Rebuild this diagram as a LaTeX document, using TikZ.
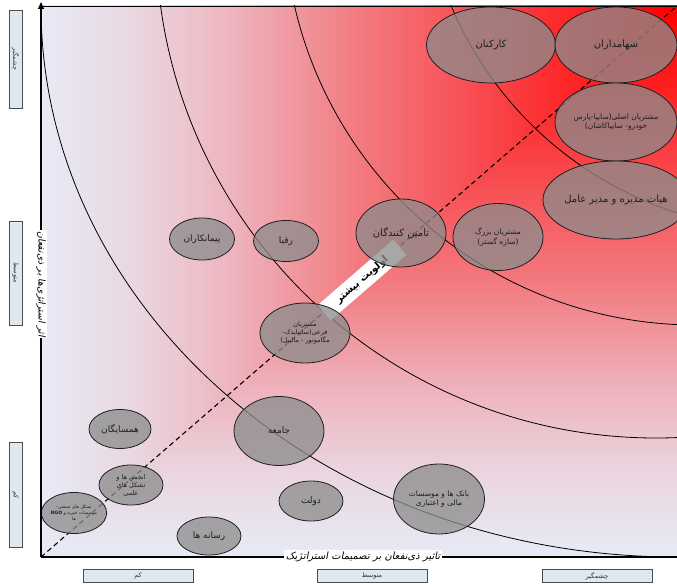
\documentclass[tikz,border=0pt]{standalone}
\usepackage{fontspec}
\usetikzlibrary{shapes.geometric,arrows.meta}
\TeXXeTstate=1
\newfontfamily\farsi[Script=Arabic]{DejaVu Sans}
\newfontfamily\farsislant[Script=Arabic,FakeSlant=0.2]{DejaVu Sans}
\newcommand\fa[1]{{\farsi\beginR #1\endR}}
\newcommand\fai[1]{{\farsislant\beginR #1\endR}}

\definecolor{lav}{RGB}{231,235,246}
\definecolor{gA}{RGB}{234,214,224}
\definecolor{gB}{RGB}{238,180,190}
\definecolor{gC}{RGB}{242,122,127}
\definecolor{gD}{RGB}{247,85,90}
\definecolor{gE}{RGB}{252,45,47}
\definecolor{gF}{RGB}{255,15,15}
\definecolor{rd}{RGB}{255,0,0}
\definecolor{ellgray}{RGB}{140,140,140}
\definecolor{boxfill}{RGB}{224,231,243}
\definecolor{inktext}{RGB}{30,30,30}

% priority field: fades from red in the top-right corner towards lavender
\pgfdeclarehorizontalshading{hfade}{100bp}{color(0bp)=(lav); color(25bp)=(lav); color(32.5bp)=(gA); color(40bp)=(gB); color(50bp)=(gC); color(57.5bp)=(gD); color(65bp)=(gE); color(71bp)=(gF); color(75bp)=(rd); color(100bp)=(rd)}
\pgfdeclareverticalshading{vfade}{100bp}{color(0bp)=(lav); color(25bp)=(lav); color(32.5bp)=(gA); color(40bp)=(gB); color(50bp)=(gC); color(57.5bp)=(gD); color(65bp)=(gE); color(71bp)=(gF); color(75bp)=(rd); color(100bp)=(rd)}

\begin{document}
\begin{tikzpicture}[x=1pt,y=-1pt,
  stake/.style={ellipse, draw=black!88, line width=0.8pt, fill=ellgray,
    fill opacity=0.76, text opacity=1, inner sep=0pt, align=center, text=inktext},
  arcline/.style={line width=0.8pt, black},
  axisline/.style={line width=1.2pt, black},
  scalebox/.style={draw=black!70, line width=0.8pt, fill=boxfill, inner sep=0pt,
    minimum height=13pt, text=black!80, font=\fontsize{6.5}{7}\selectfont},
  axislabel/.style={fill=white, inner sep=1.5pt, text=black},
  big/.style={font=\fontsize{10}{12}\selectfont},
  mid/.style={font=\fontsize{9}{11}\selectfont},
  small/.style={font=\fontsize{7.5}{9.5}\selectfont},
  tiny/.style={font=\fontsize{6.5}{8}\selectfont},
]
\useasboundingbox (0,0) rectangle (677,585);

% background field
\shade[shading=hfade] (41,6) rectangle (677,557);
\begin{scope}
  \clip (677,6) -- (677,557) -- (41,557) -- cycle;
  \shade[shading=vfade] (41,6) rectangle (677,557);
\end{scope}
\draw[line width=0.8pt] (41,6) -- (677,6);

% priority rings
\begin{scope}
  \clip (41,6) rectangle (677,557);
  \draw[arcline] (677,6) ellipse [x radius=636, y radius=551];
  \draw[arcline] (656,-62) circle [radius=500];
  \draw[arcline] (696,-87) circle [radius=412];
  \draw[arcline] (788,-135) circle [radius=365];
\end{scope}

% diagonal
\coordinate (O) at (41,557);
\coordinate (TR) at (677,6);
\draw[dash pattern=on 5pt off 3.5pt, line width=1.1pt] (O) -- (TR);

\node[fill=white, minimum width=100pt, minimum height=20pt, inner sep=0pt,
  rotate=40.9, font=\fontsize{10}{12}\selectfont] (prio) at (362,280)
  {{\farsi\bfseries\beginR اولویت بیشتر\endR}};

% stakeholders
\node[stake, big, minimum width=129pt, minimum height=76pt] (kar) at (491,45) {\fa{کارکنان}};
\node[stake, big, minimum width=122pt, minimum height=76pt] (sah) at (616,45) {\fa{سهامداران}};
\node[stake, small, minimum width=122pt, minimum height=78pt] (asli) at (616,122)
  {\fa{مشتریان اصلی(سایپا-پارس}\\\fa{خودرو- سایپاکاشان)}};
\node[stake, big, minimum width=124pt, minimum height=78pt] (heyat) at (616,200) {\fa{هیات مدیره و مدیر عامل}};
\node[stake, big, minimum width=90pt, minimum height=68pt] (tamin) at (401,233) {\fa{تامین کنندگان}};
\node[stake, small, minimum width=90pt, minimum height=67pt] (bozorg) at (498,237)
  {\fa{مشتریان بزرگ}\\\fa{(سازه گستر)}};
\node[stake, mid, minimum width=65pt, minimum height=42pt] (peyman) at (202,239) {\fa{پیمانکاران}};
\node[stake, mid, minimum width=65pt, minimum height=41pt] (raqib) at (286,241) {\fa{رقبا}};
\node[stake, tiny, minimum width=90pt, minimum height=60pt] (farei) at (305,333)
  {\fa{مشتریان}\\\fa{فرعی(سایپایدک-}\\\fa{مگاموتور - مالیبل)}};
\node[stake, mid, minimum width=90pt, minimum height=69pt] (jame) at (279,431) {\fa{جامعه}};
\node[stake, mid, minimum width=62pt, minimum height=39pt] (hamsaye) at (120,429) {\fa{همسایگان}};
\node[stake, tiny, minimum width=64pt, minimum height=40pt] (anjoman) at (131,485)
  {\fa{انجمن ها و}\\\fa{تشکل های}\\\fa{علمی}};
\node[stake, font=\fontsize{4.5}{6}\selectfont, minimum width=64pt, minimum height=41pt] (ngo) at (74,513)
  {\fa{تشکل های صنعتی-}\\\fa{موسسات خیریه و \beginL\textbf{NGO}\endL}\\\fa{ها}};
\node[stake, mid, minimum width=64pt, minimum height=38pt] (resane) at (209,536) {\fa{رسانه ها}};
\node[stake, mid, minimum width=64pt, minimum height=40pt] (dolat) at (311,501) {\fa{دولت}};
\node[stake, small, minimum width=91pt, minimum height=70pt] (bank) at (439,499)
  {\fa{بانک ها و موسسات}\\\fa{مالی و اعتباری}};

% axes
\draw[axisline, -{Triangle[length=7pt,width=6pt]}] (O) -- (41,2);
\draw[axisline, -{Triangle[length=7pt,width=6pt]}] (O) -- (684,557);
\node[axislabel, rotate=-90, font=\fontsize{9.5}{11}\selectfont] (ylab) at (41,284)
  {\fai{اثر استراتژی‌ها بر ذی‌نفعان}};
\node[axislabel, font=\fontsize{10}{12}\selectfont] (xlab) at (363,557)
  {\fai{تاثیر ذی‌نفعان بر تصمیمات استراتژیک}};

% scale boxes
\node[scalebox, minimum width=110pt] (bk) at (138,576) {\fa{کم}};
\node[scalebox, minimum width=110pt] (bm) at (372,576) {\fa{متوسط}};
\node[scalebox, minimum width=110pt] (bh) at (597,576) {\fa{چشمگیر}};
\node[scalebox, rotate=-90, minimum width=98pt] (lh) at (15.5,59) {\fa{چشمگیر}};
\node[scalebox, rotate=-90, minimum width=104pt] (lm) at (15.5,273) {\fa{متوسط}};
\node[scalebox, rotate=-90, minimum width=105pt] (lk) at (15.5,495) {\fa{کم}};
\end{tikzpicture}
\end{document}
